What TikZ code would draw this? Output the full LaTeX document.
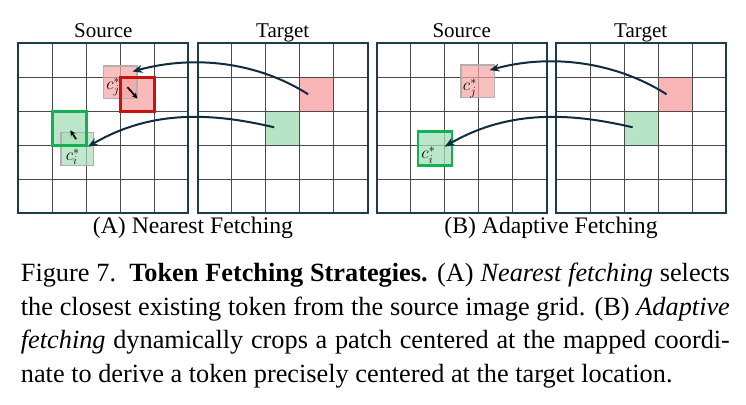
\documentclass[tikz,border=0pt]{standalone}
\usepackage{fontspec}
\setmainfont{Liberation Serif}
\usetikzlibrary{arrows.meta}
\definecolor{framec}{HTML}{1E3A4C}
\definecolor{gridc}{HTML}{4A4A4A}
\definecolor{arrowc}{HTML}{0F2B3C}
\definecolor{tokred}{HTML}{F7A3A3}
\definecolor{tokgreen}{HTML}{A6DDB8}
\definecolor{boxred}{HTML}{CC1111}
\definecolor{boxgreen}{HTML}{14B055}
\definecolor{paleedge}{HTML}{B0B0B0}

\tikzset{
  gridline/.style={gridc,line width=1.05pt},
  gridframe/.style={framec,line width=1.7pt},
  fetch/.style={arrowc,line width=2pt,-{Stealth[length=10pt,width=8pt]}},
  nudge/.style={black,line width=1.7pt,-{Stealth[length=5.5pt,width=5.5pt]}},
  palecell/.style={paleedge,line width=1.5pt,fill opacity=0.7},
  chosen/.style={line width=2.6pt},
  coordlabel/.style={font=\fontsize{18}{18}\selectfont,inner sep=0pt},
  title/.style={font=\fontsize{21}{21}\selectfont,anchor=base},
  subtitle/.style={font=\fontsize{23.7}{24}\selectfont,anchor=base},
  captionline/.style={font=\fontsize{26.3}{26.3}\selectfont,anchor=base west,inner sep=0pt},
}

\begin{document}
\begin{tikzpicture}[x=1pt,y=-1pt]
\useasboundingbox (0,0) rectangle (746,404);
% the two panels share grids and target cells
\foreach \p/\off in {A/0,B/358.4}{
  \begin{scope}[shift={(197.7+\off,43.3)},x=34pt,y=-34pt]
    \fill[tokred,opacity=0.8] (3,1) rectangle (4,2);
    \fill[tokgreen,opacity=0.8] (2,2) rectangle (3,3);
    \coordinate (tr\p) at (3.25,1.5);
    \coordinate (tg\p) at (2.25,2.47);
  \end{scope}
  \foreach \gx in {18.3,197.7}{
    \begin{scope}[shift={(\gx+\off,43.3)},x=34pt,y=-34pt]
      \foreach \k in {1,...,4}{
        \draw[gridline] (\k,0) -- (\k,5);
        \draw[gridline] (0,\k) -- (5,\k);
      }
      \draw[gridframe] (0,0) rectangle (5,5);
    \end{scope}
  }
}
% (A) nearest: snap to the closest grid token
\begin{scope}[shift={(18.3,43.3)},x=34pt,y=-34pt]
  \fill[tokred,opacity=0.75] (3,1) rectangle (4,2);
  \draw[palecell,fill=tokred] (2.51,0.67) rectangle (3.49,1.63);
  \draw[chosen,boxred] (3,1) rectangle (4,2);
  \fill[tokgreen,opacity=0.75] (1,2) rectangle (2,3);
  \draw[palecell,fill=tokgreen] (1.25,2.63) rectangle (2.21,3.59);
  \draw[chosen,boxgreen] (1,2) rectangle (2,3);
  \node[coordlabel] (cjA) at (2.79,1.28) {$c_j^*$};
  \node[coordlabel] (ciA) at (1.60,3.34) {$c_i^*$};
  \coordinate (srA) at (3.36,0.83);
  \coordinate (sgA) at (2.05,3.04);
  \draw[nudge] (3.21,1.29) -- (3.50,1.62);
  \draw[nudge] (1.70,2.82) -- (1.53,2.56);
\end{scope}
% (B) adaptive: crop centred on the mapped point
\begin{scope}[shift={(376.7,43.3)},x=34pt,y=-34pt]
  \draw[palecell,fill=tokred] (2.48,0.64) rectangle (3.46,1.60);
  \fill[tokgreen,opacity=0.75] (1.22,2.6) rectangle (2.22,3.6);
  \draw[chosen,boxgreen] (1.22,2.6) rectangle (2.22,3.6);
  \node[coordlabel] (cjB) at (2.74,1.32) {$c_j^*$};
  \node[coordlabel] (ciB) at (1.52,3.29) {$c_i^*$};
  \coordinate (srB) at (3.32,0.79);
  \coordinate (sgB) at (2.00,3.04);
\end{scope}
\foreach \p in {A,B}{
  \draw[fetch] (tr\p) .. controls +(-50,-32) and +(62,-17) .. (sr\p);
  \draw[fetch] (tg\p) .. controls +(-60,-14) and +(65,-38) .. (sg\p);
}
% labels
\node[title] (srcA) at (103.3,37.7) {Source};
\node[title] (tgtA) at (282.7,37.7) {Target};
\node[title] (srcB) at (461.7,37.7) {Source};
\node[title] (tgtB) at (640.7,37.7) {Target};
\node[subtitle] (capA) at (193,233.3) {(A) Nearest Fetching};
\node[subtitle] (capB) at (551,233.3) {(B) Adaptive Fetching};
% figure caption
\node[captionline] (line1) at (20.7,281.7) {\makebox[709pt][s]{Figure 7.\enspace\textbf{Token Fetching Strategies.} (A) \textit{Nearest fetching} selects}};
\node[captionline] (line2) at (20.7,315.2) {\makebox[709pt][s]{the closest existing token from the source image grid. (B) \textit{Adaptive}}};
\node[captionline] (line3) at (20.7,348.7) {\makebox[709pt][s]{\textit{fetching} dynamically crops a patch centered at the mapped coordi-}};
\node[captionline] (line4) at (20.7,382.2) {nate to derive a token precisely centered at the target location.};
\end{tikzpicture}
\end{document}
